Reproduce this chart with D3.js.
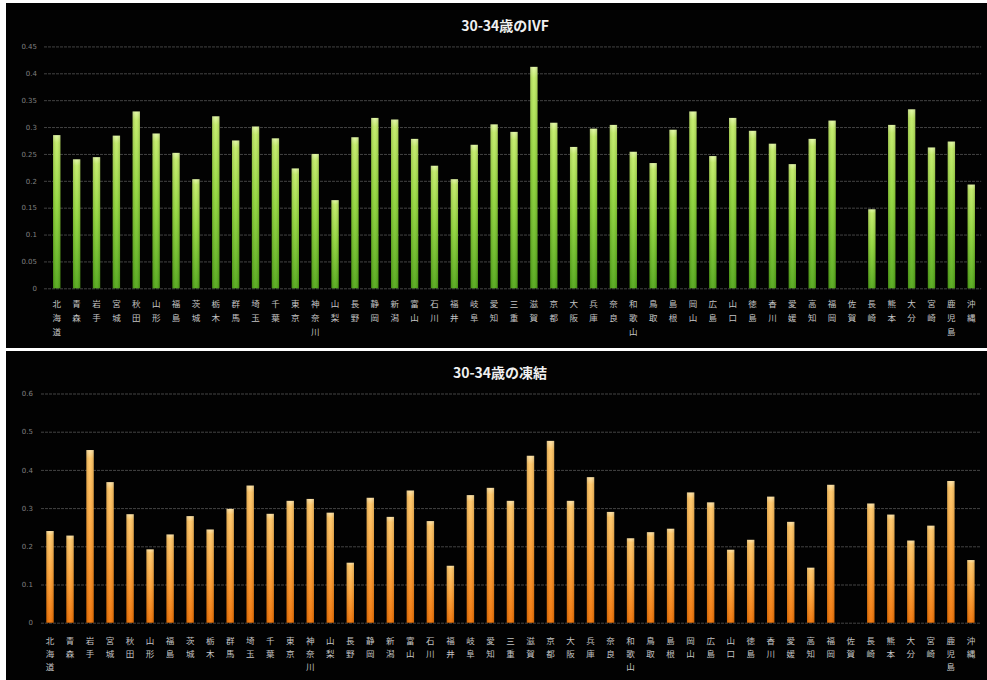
<!DOCTYPE html>
<html>
<head>
<meta charset="utf-8">
<script src="https://cdn.jsdelivr.net/npm/d3@7"></script>
<style>
  html, body { margin: 0; padding: 0; background: #ffffff; }
  svg { display: block; }
</style>
</head>
<body>
<svg id="chart" width="987" height="680"></svg>
<script>
// 47 prefectures, north to south
const prefectures = [
  "北海道","青森","岩手","宮城","秋田","山形","福島","茨城","栃木","群馬",
  "埼玉","千葉","東京","神奈川","山梨","長野","静岡","新潟","富山","石川",
  "福井","岐阜","愛知","三重","滋賀","京都","大阪","兵庫","奈良","和歌山",
  "鳥取","島根","岡山","広島","山口","徳島","香川","愛媛","高知","福岡",
  "佐賀","長崎","熊本","大分","宮崎","鹿児島","沖縄"
];

// 30-34歳 IVF rate (佐賀: no data)
const ivfValues = [
  0.285,0.240,0.244,0.284,0.329,0.288,0.252,0.203,0.320,0.275,
  0.301,0.279,0.223,0.250,0.164,0.281,0.317,0.314,0.278,0.228,
  0.203,0.267,0.305,0.291,0.412,0.308,0.263,0.297,0.304,0.254,
  0.233,0.295,0.329,0.246,0.317,0.293,0.269,0.231,0.278,0.312,
  null,0.147,0.304,0.333,0.262,0.273,0.193
];

// 30-34歳 frozen-embryo rate (佐賀: no data)
const frozenValues = [
  0.240,0.228,0.452,0.368,0.284,0.192,0.231,0.279,0.244,0.298,
  0.359,0.285,0.319,0.324,0.288,0.157,0.327,0.277,0.346,0.266,
  0.149,0.334,0.353,0.319,0.437,0.476,0.319,0.381,0.290,0.221,
  0.237,0.246,0.341,0.315,0.191,0.217,0.330,0.264,0.144,0.361,
  null,0.312,0.283,0.215,0.254,0.371,0.164
];

const ivfTicks = [0,0.05,0.1,0.15,0.2,0.25,0.3,0.35,0.4,0.45];
const frozenTicks = [0,0.1,0.2,0.3,0.4,0.5,0.6];

const svg = d3.select("#chart");
const defs = svg.append("defs");

function addGradient(id, stops) {
  const g = defs.append("linearGradient")
    .attr("id", id).attr("x1", 0).attr("y1", 0).attr("x2", 0).attr("y2", 1);
  stops.forEach(([o, c]) => g.append("stop").attr("offset", o).attr("stop-color", c));
}
addGradient("gGreen", [[0, "#e0f7a0"], [0.05, "#bfea62"], [0.45, "#8fd536"], [1, "#4fa514"]]);
addGradient("gOrange", [[0, "#ffe2a2"], [0.05, "#ffc462"], [0.5, "#ffa030"], [1, "#f07000"]]);

// horizontal sheen overlay for a rounded look
const sheen = defs.append("linearGradient")
  .attr("id", "sheen").attr("x1", 0).attr("y1", 0).attr("x2", 1).attr("y2", 0);
[[0, "rgba(0,0,0,0.15)"], [0.45, "rgba(255,255,255,0.08)"], [0.55, "rgba(255,255,255,0.08)"], [1, "rgba(0,0,0,0.15)"]]
  .forEach(([o, c]) => sheen.append("stop").attr("offset", o).attr("stop-color", c));

function drawPanel(cfg) {
  const g = svg.append("g");
  g.append("rect")
    .attr("x", cfg.box[0]).attr("y", cfg.box[1])
    .attr("width", cfg.box[2]).attr("height", cfg.box[3])
    .attr("fill", "#020202");

  g.append("text")
    .attr("x", cfg.titleX).attr("y", cfg.titleY)
    .attr("text-anchor", "middle")
    .attr("font-family", "'Noto Sans CJK JP', 'Noto Sans', sans-serif")
    .attr("font-weight", "bold")
    .attr("font-size", 14)
    .attr("fill", "#f0f0f0")
    .text(cfg.title);

  const x = d3.scaleBand()
    .domain(prefectures)
    .range([cfg.left, cfg.right])
    .paddingInner(0.63)
    .paddingOuter(0.315);

  const y = d3.scaleLinear()
    .domain([0, cfg.max])
    .range([cfg.bottom, cfg.top]);

  // gridlines and value labels
  const yAxis = d3.axisLeft(y)
    .tickValues(cfg.ticks)
    .tickSize(-(cfg.right - cfg.gridLeft))
    .tickPadding(cfg.gridLeft - cfg.labelRight)
    .tickFormat(d => d === 0 ? "0" : String(+d.toFixed(2)));

  const ax = g.append("g")
    .attr("transform", `translate(${cfg.gridLeft},0)`)
    .call(yAxis);
  ax.select(".domain").remove();
  ax.selectAll(".tick line")
    .attr("stroke", "#444444")
    .attr("stroke-width", 1)
    .attr("stroke-dasharray", "3,1");
  ax.selectAll(".tick text")
    .attr("fill", "#808080")
    .attr("font-size", 7)
    .attr("font-family", "'DejaVu Sans', sans-serif");

  // bars
  const data = prefectures.map((p, i) => ({ p, v: cfg.values[i] }))
    .filter(d => d.v != null);

  const bars = g.append("g");
  bars.selectAll("rect.fill")
    .data(data)
    .join("rect")
    .attr("class", "fill")
    .attr("x", d => x(d.p))
    .attr("y", d => y(d.v))
    .attr("width", x.bandwidth())
    .attr("height", d => y(0) - y(d.v))
    .attr("fill", `url(#${cfg.grad})`);

  bars.selectAll("rect.sheen")
    .data(data)
    .join("rect")
    .attr("class", "sheen")
    .attr("x", d => x(d.p))
    .attr("y", d => y(d.v))
    .attr("width", x.bandwidth())
    .attr("height", d => y(0) - y(d.v))
    .attr("fill", "url(#sheen)");

  // vertical category labels, one character per line
  const labels = g.append("g")
    .attr("font-family", "'Noto Sans CJK JP', sans-serif")
    .attr("font-size", 8.5)
    .attr("fill", "#c4c4c4")
    .attr("text-anchor", "middle");
  prefectures.forEach(p => {
    const cx = x(p) + x.bandwidth() / 2;
    Array.from(p).forEach((ch, k) => {
      labels.append("text")
        .attr("x", cx)
        .attr("y", cfg.bottom + cfg.labelOffset + k * cfg.lineGap)
        .text(ch);
    });
  });
}

drawPanel({
  box: [6, 3, 981, 345],
  title: "30-34歳のIVF",
  titleX: 505, titleY: 31,
  left: 46.8, right: 981.2, gridLeft: 44, labelRight: 37,
  top: 288.3 - 0.45 * 537.5, bottom: 288.3, max: 0.45,
  ticks: ivfTicks, values: ivfValues, grad: "gGreen",
  labelOffset: 19, lineGap: 14
});

drawPanel({
  box: [6, 351, 981, 329],
  title: "30-34歳の凍結",
  titleX: 500, titleY: 378,
  left: 40, right: 980.9, gridLeft: 41, labelRight: 33,
  top: 622.7 - 0.6 * 382, bottom: 622.7, max: 0.6,
  ticks: frozenTicks, values: frozenValues, grad: "gOrange",
  labelOffset: 21, lineGap: 13
});
</script>
</body>
</html>
